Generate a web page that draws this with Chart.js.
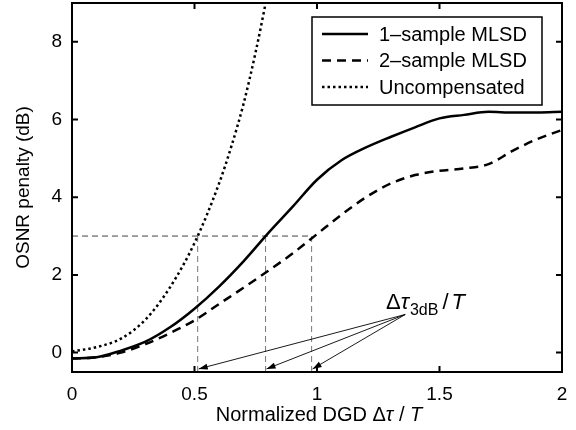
<!DOCTYPE html>
<html lang="en">
<head>
  <meta charset="UTF-8" />
  <title>OSNR penalty vs normalized DGD</title>
  <script src="https://cdn.jsdelivr.net/npm/chart.js"></script>
  <style>
    body { margin: 0; background: #fff; }
    #wrap { width: 576px; height: 430px; }
  </style>
</head>
<body>
  <div id="wrap"><canvas id="chart" width="576" height="430"></canvas></div>
  <script>
    // Normalized DGD grid for the MLSD curves
    const dgdMlsd = [0, 0.1, 0.2, 0.3, 0.4, 0.5, 0.6, 0.7, 0.8, 0.9, 1.0,
                     1.1, 1.2, 1.3, 1.4, 1.5, 1.6, 1.7, 1.8, 1.9, 2.0];
    const oneSample = [-0.15, -0.12, 0.05, 0.28, 0.65, 1.13, 1.7, 2.35, 3.07, 3.75, 4.45,
                       4.95, 5.28, 5.55, 5.8, 6.03, 6.12, 6.2, 6.18, 6.18, 6.2];
    const twoSample = [-0.15, -0.12, 0.0, 0.22, 0.5, 0.83, 1.25, 1.67, 2.1, 2.55, 3.05,
                       3.55, 4.0, 4.35, 4.57, 4.68, 4.74, 4.85, 5.2, 5.5, 5.73];
    // Uncompensated curve leaves the plot near 0.78
    const dgdUncomp = [0, 0.1, 0.2, 0.3, 0.4, 0.5, 0.6, 0.65, 0.7, 0.75, 0.8];
    const uncompensated = [0.03, 0.14, 0.36, 0.85, 1.68, 2.82, 4.35, 5.3, 6.4, 7.75, 9.3];

    const seriesNames = ['1\u2013sample MLSD', '2\u2013sample MLSD', 'Uncompensated'];
    const xTicks = [0, 0.5, 1, 1.5, 2];
    const yTicks = [0, 2, 4, 6, 8];

    // 3 dB penalty read-off
    const penalty3dB = 3;
    const dgd3dB = [0.513, 0.79, 0.978];
    const arrowFrom = { x: 1.36, y: 0.98 };
    const arrowTipY = -0.42;

    const FONT = '"Liberation Sans", Arial, Helvetica, sans-serif';

    function toPoints(xs, ys) {
      return xs.map((x, i) => ({ x: x, y: ys[i] }));
    }

    // Frame, inward ticks, guides, arrows, legend, axis titles
    const decorPlugin = {
      id: 'decor',
      beforeDatasetsDraw(chart) {
        const ctx = chart.ctx;
        const xs = chart.scales.x, ys = chart.scales.y;
        ctx.save();
        ctx.strokeStyle = '#444';
        ctx.lineWidth = 1;
        ctx.setLineDash([6, 4]);
        const yp = ys.getPixelForValue(penalty3dB);
        ctx.beginPath();
        ctx.moveTo(xs.left, yp);
        ctx.lineTo(xs.getPixelForValue(Math.max(...dgd3dB)), yp);
        ctx.stroke();
        ctx.strokeStyle = '#777';
        dgd3dB.forEach(d => {
          const xp = xs.getPixelForValue(d);
          ctx.beginPath();
          ctx.moveTo(xp, ys.bottom);
          ctx.lineTo(xp, yp);
          ctx.stroke();
        });
        ctx.restore();
      },
      afterDraw(chart) {
        const ctx = chart.ctx;
        const a = chart.chartArea;
        const xs = chart.scales.x, ys = chart.scales.y;
        ctx.save();

        // arrows
        ctx.strokeStyle = '#000';
        ctx.fillStyle = '#000';
        ctx.lineWidth = 0.9;
        const ox = xs.getPixelForValue(arrowFrom.x), oy = ys.getPixelForValue(arrowFrom.y);
        dgd3dB.forEach(d => {
          const tx = xs.getPixelForValue(d) + 1, ty = ys.getPixelForValue(arrowTipY);
          ctx.beginPath();
          ctx.moveTo(ox, oy);
          ctx.lineTo(tx, ty);
          ctx.stroke();
          const ang = Math.atan2(ty - oy, tx - ox);
          const L = 9, W = 3;
          ctx.beginPath();
          ctx.moveTo(tx, ty);
          ctx.lineTo(tx - L * Math.cos(ang) + W * Math.sin(ang), ty - L * Math.sin(ang) - W * Math.cos(ang));
          ctx.lineTo(tx - L * Math.cos(ang) - W * Math.sin(ang), ty - L * Math.sin(ang) + W * Math.cos(ang));
          ctx.closePath();
          ctx.fill();
        });

        // annotation text: Δτ_3dB / T
        ctx.textBaseline = 'alphabetic';
        ctx.textAlign = 'left';
        let tx = 386, ty = 309;
        ctx.font = '22px ' + FONT;
        ctx.fillText('\u0394', tx, ty); tx += ctx.measureText('\u0394').width;
        ctx.font = 'italic 22px ' + FONT;
        ctx.fillText('\u03C4', tx, ty); tx += ctx.measureText('\u03C4').width + 1;
        ctx.font = '16px ' + FONT;
        ctx.fillText('3dB', tx, ty + 6); tx += ctx.measureText('3dB').width + 4;
        ctx.font = '22px ' + FONT;
        ctx.fillText('/', tx, ty); tx += ctx.measureText('/').width + 3;
        ctx.font = 'italic 22px ' + FONT;
        ctx.fillText('T', tx, ty);

        // frame
        ctx.strokeStyle = '#000';
        ctx.lineWidth = 2;
        ctx.strokeRect(a.left, a.top, a.right - a.left, a.bottom - a.top);
        // inward ticks on all four sides
        const tl = 6;
        ctx.beginPath();
        xTicks.forEach(v => {
          const p = xs.getPixelForValue(v);
          ctx.moveTo(p, a.bottom); ctx.lineTo(p, a.bottom - tl);
          ctx.moveTo(p, a.top); ctx.lineTo(p, a.top + tl);
        });
        yTicks.forEach(v => {
          const p = ys.getPixelForValue(v);
          ctx.moveTo(a.left, p); ctx.lineTo(a.left + tl, p);
          ctx.moveTo(a.right, p); ctx.lineTo(a.right - tl, p);
        });
        ctx.stroke();

        // legend
        const bx = 312, by = 17, bw = 230, bh = 88;
        ctx.fillStyle = '#fff';
        ctx.fillRect(bx, by, bw, bh);
        ctx.lineWidth = 1.5;
        ctx.strokeRect(bx, by, bw, bh);
        ctx.font = '20px ' + FONT;
        ctx.textBaseline = 'middle';
        chart.data.datasets.forEach((ds, i) => {
          const ry = by + 17 + i * 26.5;
          ctx.strokeStyle = ds.borderColor;
          ctx.lineWidth = ds.borderWidth;
          ctx.setLineDash(ds.borderDash || []);
          ctx.beginPath();
          ctx.moveTo(bx + 10, ry);
          ctx.lineTo(bx + 56, ry);
          ctx.stroke();
          ctx.setLineDash([]);
          ctx.fillStyle = '#000';
          ctx.fillText(ds.label, bx + 67, ry + 1);
        });

        // x title with italic symbols
        const parts = [['Normalized DGD \u0394', ''], ['\u03C4', 'italic '], [' / ', ''], ['T', 'italic ']];
        ctx.textBaseline = 'alphabetic';
        let total = 0;
        parts.forEach(p => { ctx.font = p[1] + '20px ' + FONT; total += ctx.measureText(p[0]).width; });
        let px = (a.left + a.right) / 2 - total / 2 + 2;
        parts.forEach(p => {
          ctx.font = p[1] + '20px ' + FONT;
          ctx.fillText(p[0], px, 421);
          px += ctx.measureText(p[0]).width;
        });

        // y title
        ctx.translate(24, (a.top + a.bottom) / 2);
        ctx.rotate(-Math.PI / 2);
        ctx.textAlign = 'center';
        ctx.textBaseline = 'middle';
        ctx.font = '19px ' + FONT;
        ctx.fillText('OSNR penalty (dB)', 0, 0);
        ctx.restore();
      }
    };

    const ctx = document.getElementById('chart').getContext('2d');
    new Chart(ctx, {
      type: 'line',
      data: {
        datasets: [
          {
            label: seriesNames[0],
            data: toPoints(dgdMlsd, oneSample),
            borderColor: '#000',
            borderWidth: 2.5,
            pointRadius: 0,
            cubicInterpolationMode: 'monotone'
          },
          {
            label: seriesNames[1],
            data: toPoints(dgdMlsd, twoSample),
            borderColor: '#000',
            borderWidth: 2.5,
            borderDash: [9, 6],
            pointRadius: 0,
            cubicInterpolationMode: 'monotone'
          },
          {
            label: seriesNames[2],
            data: toPoints(dgdUncomp, uncompensated),
            borderColor: '#000',
            borderWidth: 2.5,
            borderDash: [2.5, 3],
            pointRadius: 0,
            cubicInterpolationMode: 'monotone'
          }
        ]
      },
      options: {
        responsive: false,
        animation: false,
        layout: { padding: { top: 3, right: 14, left: 0, bottom: 0 } },
        plugins: { legend: { display: false }, tooltip: { enabled: false } },
        scales: {
          x: {
            type: 'linear',
            min: 0,
            max: 2,
            afterBuildTicks: s => { s.ticks = xTicks.map(v => ({ value: v })); },
            afterFit: s => { s.height = 58; s.paddingLeft = 0; s.paddingRight = 0; },
            grid: { display: false, drawTicks: false },
            border: { display: false },
            ticks: {
              padding: 11,
              color: '#000',
              maxRotation: 0,
              font: { family: FONT, size: 19 },
              callback: v => String(v)
            }
          },
          y: {
            min: -0.5,
            max: 9,
            afterBuildTicks: s => { s.ticks = yTicks.map(v => ({ value: v })); },
            afterFit: s => { s.width = 72; s.paddingTop = 0; s.paddingBottom = 0; },
            grid: { display: false, drawTicks: false },
            border: { display: false },
            ticks: {
              padding: 10,
              color: '#000',
              font: { family: FONT, size: 19 },
              callback: v => String(v)
            }
          }
        }
      },
      plugins: [decorPlugin]
    });
  </script>
</body>
</html>
